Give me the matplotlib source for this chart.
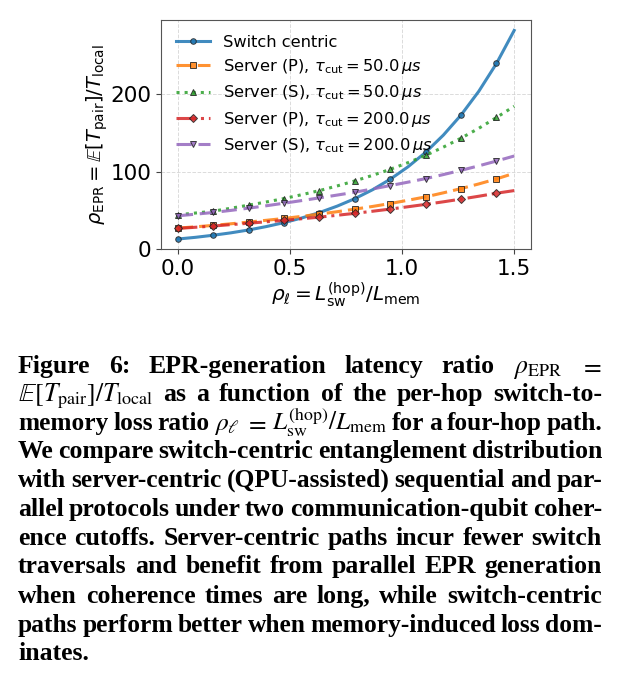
import numpy as np
import matplotlib.pyplot as plt

# data (20 points, markers on every 2nd)
rho_l = np.linspace(0.0, 1.5, 20)
switch_centric = [12.9, 15.1, 17.8, 20.9, 24.6, 29.0, 34.1, 40.1, 47.1, 55.4,
                  65.1, 76.6, 90.2, 106.2, 125.0, 147.2, 173.2, 203.8, 239.8, 282.5]
server_p_50 = [27.0, 28.7, 30.5, 32.6, 34.8, 37.1, 39.5, 42.2, 45.1, 48.2,
               51.5, 55.0, 58.8, 63.0, 67.4, 72.6, 78.1, 84.1, 90.6, 97.9]
server_s_50 = [44.2, 46.5, 48.9, 52.7, 56.7, 60.8, 65.2, 70.2, 75.5, 81.5,
               88.0, 95.2, 103.0, 111.6, 121.0, 131.7, 143.3, 156.0, 170.0, 184.5]
server_p_200 = [26.6, 28.1, 29.7, 31.5, 33.3, 35.2, 37.0, 39.1, 41.2, 43.6,
                46.1, 48.8, 51.6, 54.6, 57.7, 61.0, 64.5, 68.2, 72.1, 75.5]
server_s_200 = [42.9, 45.0, 47.2, 49.9, 52.8, 55.9, 59.2, 62.6, 66.1, 69.7,
                73.4, 77.6, 82.0, 86.4, 91.0, 96.2, 101.7, 107.5, 113.7, 120.2]

labels = ["Switch centric",
          r"Server (P), $\tau_{\rm cut} = 50.0\,\mu s$",
          r"Server (S), $\tau_{\rm cut} = 50.0\,\mu s$",
          r"Server (P), $\tau_{\rm cut} = 200.0\,\mu s$",
          r"Server (S), $\tau_{\rm cut} = 200.0\,\mu s$"]
series = [switch_centric, server_p_50, server_s_50, server_p_200, server_s_200]
colors = ['#1f77b4', '#ff7f0e', '#2ca02c', '#d62728', '#9467bd']
markers = ['o', 's', '^', 'D', 'v']
styles = ['-', (0, (5, 2)), ':', '-.', (0, (5, 2.2))]

W, H = 626, 680
fig = plt.figure(figsize=(W / 100, H / 100), dpi=100, facecolor='white')
ax = fig.add_axes([161 / W, 1 - 249 / H, 370 / W, 229 / H])

for ys, lab, c, m, ls in zip(series, labels, colors, markers, styles):
    ax.plot(rho_l, ys, color=c, ls=ls, lw=2.2, alpha=0.85, marker=m, markevery=2,
            markersize=4, markerfacecolor=c, markeredgecolor='#222222',
            markeredgewidth=0.7, label=lab)

ax.set_xlim(-0.075, 1.575)
ax.set_ylim(0, 296)
ax.set_xticks([0.0, 0.5, 1.0, 1.5])
ax.set_yticks([0, 100, 200])
ax.tick_params(labelsize=15.5, color='#444444')
ax.grid(True, ls='--', lw=0.7, color='#cccccc', alpha=0.7)
for s in ax.spines.values():
    s.set_color('#555555')
ax.set_xlabel(r"$\rho_\ell = L_{\rm sw}^{\rm (hop)}/L_{\rm mem}$", fontsize=14.5, labelpad=1)
ax.set_ylabel(r"$\rho_{\rm EPR} = \mathbb{E}[T_{\rm pair}]/T_{\rm local}$", fontsize=14, labelpad=0)
ax.legend(loc='upper left', frameon=False, fontsize=11.7, labelspacing=0.45,
          handlelength=2.1, handletextpad=0.8, borderaxespad=0.5)

# caption, justified line by line
caption = [
    ["Figure", "6:", "EPR-generation", "latency", "ratio", r"$\rho_{\mathrm{EPR}}$", "$=$"],
    [r"$\mathbb{E}[T_{\mathrm{pair}}]/T_{\mathrm{local}}$", "as", "a", "function", "of", "the",
     "per-hop", "switch-to-"],
    ["memory", "loss", "ratio", r"$\rho_\ell$", "$=$", r"$L_{\mathrm{sw}}^{(\mathrm{hop})}/L_{\mathrm{mem}}$",
     "for", "a", "four-hop", "path."],
    ["We", "compare", "switch-centric", "entanglement", "distribution"],
    ["with", "server-centric", "(QPU-assisted)", "sequential", "and", "par-"],
    ["allel", "protocols", "under", "two", "communication-qubit", "coher-"],
    ["ence", "cutoffs.", "Server-centric", "paths", "incur", "fewer", "switch"],
    ["traversals", "and", "benefit", "from", "parallel", "EPR", "generation"],
    ["when", "coherence", "times", "are", "long,", "while", "switch-centric"],
    ["paths", "perform", "better", "when", "memory-induced", "loss", "dom-"],
    ["inates."],
]
baselines = [373, 401, 430, 458, 487, 516, 545, 573, 603, 632, 660]
x_left, x_right = 18, 602
fsize = 18.5
min_gap = 4.5

renderer = fig.canvas.get_renderer()
for words, yb in zip(caption, baselines):
    size = fsize
    texts = [fig.text(0, 1 - yb / H, w, fontsize=size, family='Liberation Serif',
                      fontweight='bold', va='baseline', ha='left', math_fontfamily='stix')
             for w in words]
    widths = [t.get_window_extent(renderer).width for t in texts]
    n_gaps = max(len(words) - 1, 1)
    room = x_right - x_left - min_gap * n_gaps
    if len(words) > 1 and sum(widths) > room:
        size = fsize * room / sum(widths)
        for t in texts:
            t.set_fontsize(size)
        widths = [t.get_window_extent(renderer).width for t in texts]
    if len(words) > 1:
        gap = (x_right - x_left - sum(widths)) / n_gaps
    else:
        gap = 5
    x = x_left
    for t, w in zip(texts, widths):
        t.set_x(x / W)
        x += w + gap

fig.savefig('out.png', dpi=100, facecolor='white')
